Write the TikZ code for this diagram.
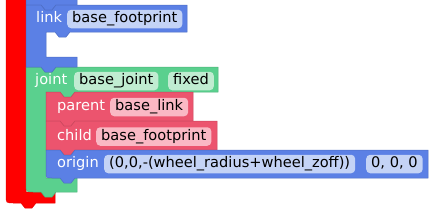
\documentclass[tikz,border=0pt]{standalone}
\usepackage{fontspec}
\setmainfont{DejaVu Sans}
\usepackage{xcolor}
\usepackage{tikz}

\definecolor{blkblue}{RGB}{91,128,229}
\definecolor{fldblue}{RGB}{196,211,246}
\definecolor{blkgreen}{RGB}{90,208,142}
\definecolor{fldgreen}{RGB}{192,236,209}
\definecolor{blkpink}{RGB}{236,84,110}
\definecolor{fldpink}{RGB}{250,184,196}

% notch cut into a top edge (left to right), tab hanging from a bottom edge (right to left)
\newcommand\notchtop[2]{-- (#1,#2) -- ++(4,5) -- ++(7,0) -- ++(4,-5)}
\newcommand\tabbot[2]{-- (#1+15,#2) -- ++(-4,5) -- ++(-7,0) -- ++(-4,-5)}

\begin{document}
\begin{tikzpicture}[x=1pt,y=-1pt,
   blockfont/.style={font=\fontsize{14.6}{17}\selectfont},
   blueblk/.style={fill=blkblue,draw=blkblue!85!black,line width=0.5pt},
   greenblk/.style={fill=blkgreen,draw=blkgreen!85!black,line width=0.5pt},
   pinkblk/.style={fill=blkpink,draw=blkpink!85!black,line width=0.5pt},
   redblk/.style={fill=red,draw=red!90!black,line width=0.5pt},
   lbl/.style={blockfont,anchor=west,inner sep=0pt,text=white,text height=11pt,text depth=3.5pt},
   fld/.style={blockfont,anchor=west,inner xsep=5pt,inner ysep=2pt,rounded corners=4pt,
               text height=11pt,text depth=3.5pt}]
 \path[use as bounding box] (0,0) rectangle (440,218);
 \clip (0,0) rectangle (440,218);
 % outer red block (only its left bar and bottom arm show)
 \draw[redblk] (6,-10) -- (26,-10) -- (26,192) -- (55,192) -- (55,203) \tabbot{21}{203}
   -- (14,203) .. controls (6,203) .. (6,195) -- cycle;
 % joint block with its statement input
 \draw[greenblk] (26,67) \notchtop{41}{67} -- (218,67) -- (218,92) \tabbot{60}{92} -- (46,92)
   -- (46,178) -- (77,178) -- (77,192) \tabbot{41}{192} -- (34,192) .. controls (26,192) .. (26,184) -- cycle;
 % bottom arm of the block above
 \draw[blueblk] (26,-10) -- (77,-10) -- (77,5) \tabbot{41}{5} -- (26,5) -- cycle;
 % link block with empty statement
 \draw[blueblk] (26,5) \notchtop{41}{5} -- (187,5) -- (187,32) \tabbot{55}{32} -- (46,32)
   -- (46,57) -- (77,57) -- (77,67) \tabbot{41}{67} -- (26,67) -- cycle;
 % parent, child, origin inside joint
 \draw[pinkblk] (46,92) \notchtop{60}{92} -- (193,92) -- (193,121) \tabbot{60}{121} -- (46,121) -- cycle;
 \draw[pinkblk] (46,121) \notchtop{60}{121} -- (217,121) -- (217,150) \tabbot{60}{150} -- (46,150) -- cycle;
 \draw[blueblk] (46,150) \notchtop{60}{150} -- (428,150) -- (428,178) \tabbot{60}{178}
   -- (52,178) .. controls (46,178) .. (46,172) -- cycle;
 % labels and fields
 \node[lbl] (linklbl) at (36,19) {link};
 \node[fld,fill=fldblue] (linkfld) at (67,19) {base\_footprint};
 \node[lbl] (jointlbl) at (35,81) {joint};
 \node[fld,fill=fldgreen] (jointfld) at (74,81) {base\_joint};
 \node[fld,fill=fldgreen] (typefld) at (168,81) {fixed};
 \node[lbl] (parentlbl) at (57,107) {parent};
 \node[fld,fill=fldpink] (parentfld) at (110,107) {base\_link};
 \node[lbl] (childlbl) at (57,136.5) {child};
 \node[fld,fill=fldpink] (childfld) at (96,136.5) {base\_footprint};
 \node[lbl] (originlbl) at (57,164) {origin};
 \node[fld,fill=fldblue] (xyzfld) at (104,164) {(0,0,-(wheel\_radius+wheel\_zoff))};
 \node[fld,fill=fldblue] (rpyfld) at (366,164) {0, 0, 0};
\end{tikzpicture}
\end{document}
